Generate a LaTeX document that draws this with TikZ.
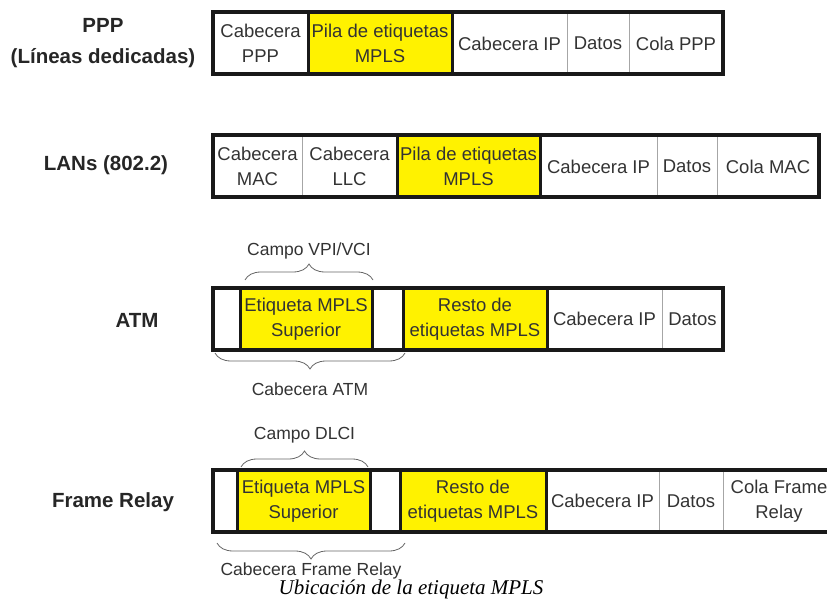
\documentclass[tikz,border=0pt]{standalone}
\usepackage{fontspec}
\setmainfont{Liberation Sans}
\newfontfamily\captionfont{Liberation Serif}
\usetikzlibrary{positioning, decorations.pathreplacing}

\begin{document}
\begin{tikzpicture}[
    x=1pt, y=-1pt,
    celda/.style={draw=gray!70, line width=0.8pt, minimum height=62pt, inner sep=0pt, outer sep=0pt, align=center, font=\fontsize{18.5}{25}\selectfont, text=black!80},
    mpls/.style={celda, fill=yellow},
    borde/.style={draw=black!90, line width=3pt},
    marco/.style={draw=black!90, line width=4pt},
    fila/.style={font=\fontsize{20.5}{31}\selectfont\bfseries, align=center, text=black!85},
    llave/.style={decorate, decoration={brace, amplitude=16pt}, draw=black!60, line width=0.8pt},
    nota/.style={font=\fontsize{17.5}{21}\selectfont, text=black!80, inner sep=2pt},
]
\useasboundingbox (0,0) rectangle (827,601);
\clip (0,0) rectangle (827,601);

\node[fila] (lppp) at (103,43) {PPP\\(Líneas dedicadas)};
\node[celda, minimum width=95pt, anchor=west] (ppp1) at (213,43.5) {Cabecera\\PPP};
\node[mpls, minimum width=144pt, right=0pt of ppp1] (ppp2) {Pila de etiquetas\\MPLS};
\node[celda, minimum width=115pt, right=0pt of ppp2] (ppp3) {Cabecera IP};
\node[celda, minimum width=62pt, right=0pt of ppp3] (ppp4) {Datos};
\node[celda, minimum width=94pt, right=0pt of ppp4] (ppp5) {Cola PPP};

\node[fila] (llan) at (106,165) {LANs (802.2)};
\node[celda, minimum width=89pt, anchor=west] (lan1) at (213,166.5) {Cabecera\\MAC};
\node[celda, minimum width=95pt, right=0pt of lan1] (lan2) {Cabecera\\LLC};
\node[mpls, minimum width=143pt, right=0pt of lan2] (lan3) {Pila de etiquetas\\MPLS};
\node[celda, minimum width=117pt, right=0pt of lan3] (lan4) {Cabecera IP};
\node[celda, minimum width=60pt, right=0pt of lan4] (lan5) {Datos};
\node[celda, minimum width=102pt, right=0pt of lan5] (lan6) {Cola MAC};

\node[fila] (latm) at (137,320) {ATM};
\node[celda, minimum width=27pt, anchor=west] (atm1) at (213,319) {};
\node[mpls, minimum width=132pt, right=0pt of atm1] (atm2) {Etiqueta MPLS\\Superior};
\node[celda, minimum width=31pt, right=0pt of atm2] (atm3) {};
\node[mpls, minimum width=144pt, right=0pt of atm3] (atm4) {Resto de\\etiquetas MPLS};
\node[celda, minimum width=115pt, right=0pt of atm4] (atm5) {Cabecera IP};
\node[celda, minimum width=61pt, right=0pt of atm5] (atm6) {Datos};

\node[fila] (lfr) at (113,502) {Frame Relay};
\node[celda, minimum width=24pt, anchor=west] (fr1) at (213,501) {};
\node[mpls, minimum width=133pt, right=0pt of fr1] (fr2) {Etiqueta MPLS\\Superior};
\node[celda, minimum width=30pt, right=0pt of fr2] (fr3) {};
\node[mpls, minimum width=146pt, right=0pt of fr3] (fr4) {Resto de\\etiquetas MPLS};
\node[celda, minimum width=113pt, right=0pt of fr4] (fr5) {Cabecera IP};
\node[celda, minimum width=64pt, right=0pt of fr5] (fr6) {Datos};
\node[celda, minimum width=112pt, right=0pt of fr6] (fr7) {Cola Frame\\Relay};

\foreach \n in {ppp2, lan3, atm2, atm4, fr2, fr4}
    \draw[borde] (\n.north west) rectangle (\n.south east);
\foreach \a/\b in {ppp1/ppp5, lan1/lan6, atm1/atm6, fr1/fr7}
    \draw[marco] (\a.north west) rectangle (\b.south east);

\draw[llave] ([xshift=5pt, yshift=8pt]atm2.north west) -- ([xshift=1pt, yshift=8pt]atm2.north east)
    node[nota, midway, above=18pt] (vpi) {Campo VPI/VCI};
\draw[llave] ([xshift=2pt, yshift=-3pt]atm3.south east) -- ([xshift=2pt, yshift=-3pt]atm1.south west)
    node[nota, midway, below=27pt] (catm) {Cabecera ATM};
\draw[llave] ([xshift=4pt, yshift=3pt]fr2.north west) -- ([xshift=-2pt, yshift=3pt]fr2.north east)
    node[nota, midway, above=21pt] (dlci) {Campo DLCI};
\draw[llave] ([xshift=5pt, yshift=-11pt]fr3.south east) -- ([xshift=4pt, yshift=-11pt]fr1.south west)
    node[nota, midway, below=17pt] (cfr) {Cabecera Frame Relay};

\node[font={\captionfont\fontsize{21}{24}\itshape\selectfont}] (titulo) at (411,589) {Ubicación de la etiqueta MPLS};
\end{tikzpicture}
\end{document}
